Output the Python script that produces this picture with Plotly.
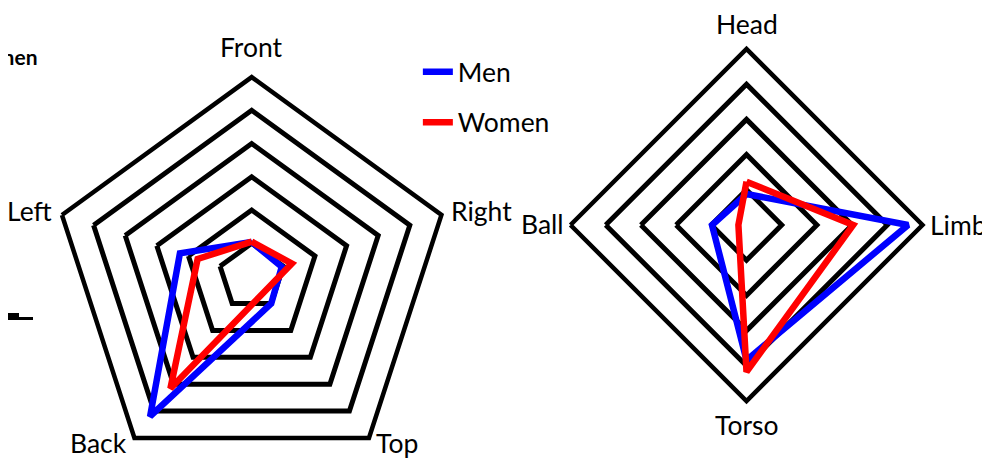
import math
import plotly.graph_objects as go

# page body has an 8px margin, so the paper starts 8px in; the figure is
# made taller than the window and the overflow is simply not seen
W, H = 990, 470

# left chart: where the hit lands
left_axes = ["Front", "Right", "Top", "Back", "Left"]
left_men = [1.04, 0.95, 1.0, 5.2, 2.27]
left_women = [1.05, 1.27, 0.6, 4.16, 1.71]
left_rings = [1, 2, 3, 4, 5, 6]

# right chart: body part
right_axes = ["Head", "Limb", "Torso", "Ball"]
right_men = [0.88, 4.59, 3.84, 0.98]
right_women = [1.23, 3.03, 4.17, 0.23]
right_rings = [1, 2, 3, 4, 5]

series = ["Men", "Women"]
colors = ["#0000ff", "#ff0000"]

FONT = "Lato"
FS = 26.5

# polar centres / outer radius, in paper pixels
LEFT_C, LEFT_R = (243.7, 268.6), 199.5
RIGHT_C, RIGHT_R = (738.5, 217.0), 176.0


def closed(vals):
    return list(vals) + list(vals[:1])


def domain(c, r):
    return dict(x=[(c[0] - r) / W, (c[0] + r) / W],
                y=[1 - (c[1] + r) / H, 1 - (c[1] - r) / H])


def vertices(c, r, n):
    out = []
    for i in range(n):
        a = math.radians(90 - 360 * i / n)
        out.append((c[0] + r * math.cos(a), c[1] - r * math.sin(a)))
    return out


fig = go.Figure()

for name, col, vals in zip(series, colors, [left_men, left_women]):
    fig.add_trace(go.Scatterpolar(
        r=closed(vals), theta=closed(left_axes), name=name,
        mode="lines", line=dict(color=col, width=6.5),
        legendgroup=name, subplot="polar"))

for name, col, vals in zip(series, colors, [right_men, right_women]):
    fig.add_trace(go.Scatterpolar(
        r=closed(vals), theta=closed(right_axes), name=name,
        mode="lines", line=dict(color=col, width=6.5),
        legendgroup=name, showlegend=False, subplot="polar2"))

grid = dict(showticklabels=False, ticks="", showline=False,
            gridcolor="black", gridwidth=4.5)
ang = dict(direction="clockwise", rotation=90, showgrid=False,
           showline=True, linecolor="black", linewidth=4.5,
           ticks="", showticklabels=False)

fig.update_layout(
    width=W, height=H,
    margin=dict(l=0, r=0, t=0, b=0),
    paper_bgcolor="white",
    font=dict(family=FONT, size=FS, color="black"),
    polar=dict(
        domain=domain(LEFT_C, LEFT_R),
        bgcolor="white", gridshape="linear",
        radialaxis=dict(range=[0, left_rings[-1]],
                        tickvals=left_rings[:-1], **grid),
        angularaxis=dict(categoryorder="array", categoryarray=left_axes,
                         **ang),
    ),
    polar2=dict(
        domain=domain(RIGHT_C, RIGHT_R),
        bgcolor="white", gridshape="linear",
        radialaxis=dict(range=[0, right_rings[-1]],
                        tickvals=right_rings[:-1], **grid),
        angularaxis=dict(categoryorder="array", categoryarray=right_axes,
                         **ang),
    ),
    legend=dict(x=0.414, y=0.915, xanchor="left", yanchor="top",
                font=dict(family=FONT, size=FS), tracegroupgap=13,
                traceorder="grouped", bgcolor="rgba(0,0,0,0)"),
)

# category labels next to the outer ring's corners
# (offset from the corner in px, horizontal anchor)
left_lab = [(0, -30.5, "center"), (8, -4, "left"), (5, 5, "left"),
            (-5, 5, "right"), (-8, -4, "right")]
right_lab = [(0, -25.5, "center"), (5, 0, "left"), (0, 24, "center"),
             (-5, -1, "right")]
for c, r, axes, labs in [(LEFT_C, LEFT_R, left_axes, left_lab),
                         (RIGHT_C, RIGHT_R, right_axes, right_lab)]:
    for (vx, vy), txt, (dx, dy, xa) in zip(vertices(c, r, len(axes)),
                                           axes, labs):
        fig.add_annotation(text=txt, x=(vx + dx) / W, y=1 - (vy + dy) / H,
                           xref="paper", yref="paper", xanchor=xa,
                           yanchor="middle", showarrow=False,
                           font=dict(family=FONT, size=FS, color="black"))

# remnants of the neighbouring panel cut off at the left edge
fig.add_annotation(text="<b>Women</b>", x=32 / W, y=1 - 49 / H,
                   xref="paper", yref="paper", xanchor="right",
                   yanchor="middle", showarrow=False,
                   font=dict(family=FONT, size=21))
fig.add_shape(type="line", xref="paper", yref="paper",
              x0=0, x1=11 / W, y0=1 - 308.5 / H, y1=1 - 308.5 / H,
              line=dict(color="black", width=7))
fig.add_shape(type="line", xref="paper", yref="paper",
              x0=11 / W, x1=25 / W, y0=1 - 310.5 / H, y1=1 - 310.5 / H,
              line=dict(color="black", width=3))

fig.write_html("out.html")
